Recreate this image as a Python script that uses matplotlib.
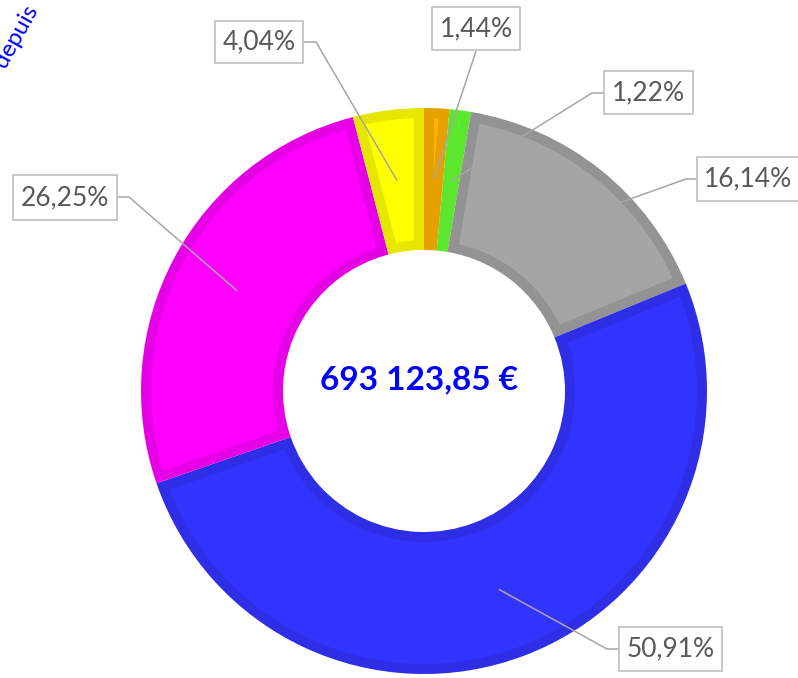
import numpy as np
import matplotlib
matplotlib.use("Agg")
import matplotlib.pyplot as plt
from matplotlib.patches import Polygon, Rectangle

W, H = 798, 678

# data (clockwise from 12 o'clock)
labels = ["1,44%", "1,22%", "16,14%", "50,91%", "26,25%", "4,04%"]
shares = [1.44, 1.22, 16.14, 50.91, 26.25, 4.04]
fills = ["#FFB300", "#66FF33", "#A5A5A5", "#3333FF", "#FF00FF", "#FFFF00"]
edges = ["#E6A100", "#5CE62E", "#939393", "#2E2EE6", "#E600E6", "#E6E600"]
total_txt = "693 123,85 €"

# layout, image pixels (y down): label box x0, y0, x1, y1 and leader elbow
boxes = [(432, 7, 520, 50), (604, 71, 693, 114), (697, 157, 800, 201),
         (619, 627, 722, 671), (13, 175, 117, 220), (215, 21, 303, 63)]
starts = [(476, 51), (604, 93), (697, 179), (619, 649), (117, 197), (303, 42)]
elbows = [(476, 51), (592, 93), (686, 179), (607, 649), (129, 197), (316, 42)]

cx, cy, R, ring, bw = 424, 391, 283, 142, 10


def Y(y):
    return H - y


def inset(w, b):
    """Segment shape shrunk by b pixels, so the darker wedge shows as a border."""
    x0, y0 = w.center
    ro, ri = w.r - b, w.r - w.width + b
    t1, t2 = np.deg2rad(w.theta1), np.deg2rad(w.theta2)
    half = (t2 - t1) / 2
    do = np.arcsin(b / ro)
    pts = [(ro, t) for t in np.linspace(t1 + do, t2 - do, 80)]
    rmin = b / np.sin(half) if half < np.pi / 2 else 0
    if rmin < ri:
        di = np.arcsin(b / ri)
        pts += [(ri, t) for t in np.linspace(t2 - di, t1 + di, 60)]
    else:
        pts.append((rmin, t1 + half))
    return [(x0 + r * np.cos(t), y0 + r * np.sin(t)) for r, t in pts]


plt.rcParams["font.family"] = ["Lato", "DejaVu Sans"]
fig = plt.figure(figsize=(W / 100, H / 100), dpi=100)
ax = fig.add_axes([0, 0, 1, 1])

wedges, _ = ax.pie(shares, colors=edges, startangle=90, counterclock=False,
                   radius=R, center=(cx, Y(cy)),
                   wedgeprops=dict(width=ring, linewidth=0))
for w, fc in zip(wedges, fills):
    ax.add_patch(Polygon(inset(w, bw), closed=True, facecolor=fc,
                         edgecolor="none", zorder=w.get_zorder() + 0.1))

# leader lines to the middle of each ring segment
cum = np.cumsum([0] + shares[:-1])
rmid = R - ring / 2
for i, lab in enumerate(labels):
    a = np.deg2rad(90 - (cum[i] + shares[i] / 2) * 3.6)
    px, py = cx + rmid * np.cos(a), Y(cy) + rmid * np.sin(a)
    sx, sy = starts[i]
    ex, ey = elbows[i]
    ax.plot([sx, ex, px], [Y(sy), Y(ey), py], color="#A6A6A6", lw=1.1,
            solid_capstyle="butt", zorder=3)
    x0, y0, x1, y1 = boxes[i]
    ax.add_patch(Rectangle((x0, Y(y1)), x1 - x0, y1 - y0, facecolor="white",
                           edgecolor="#BFBFBF", lw=1.2, zorder=4))
    ax.text((x0 + x1) / 2, Y((y0 + y1) / 2), lab, ha="center", va="center",
            fontsize=19, color="#595959", zorder=5)

ax.text(419, Y(380), total_txt, ha="center", va="center", fontsize=24,
        fontweight="bold", color="#0000FF")
ax.text(38, Y(10), "depuis", rotation=61, rotation_mode="anchor", ha="right",
        va="baseline", fontsize=17, color="#0000FF")

ax.set_xlim(0, W)
ax.set_ylim(0, H)
ax.set_aspect("equal")
ax.axis("off")
fig.savefig("out.png", dpi=100)
